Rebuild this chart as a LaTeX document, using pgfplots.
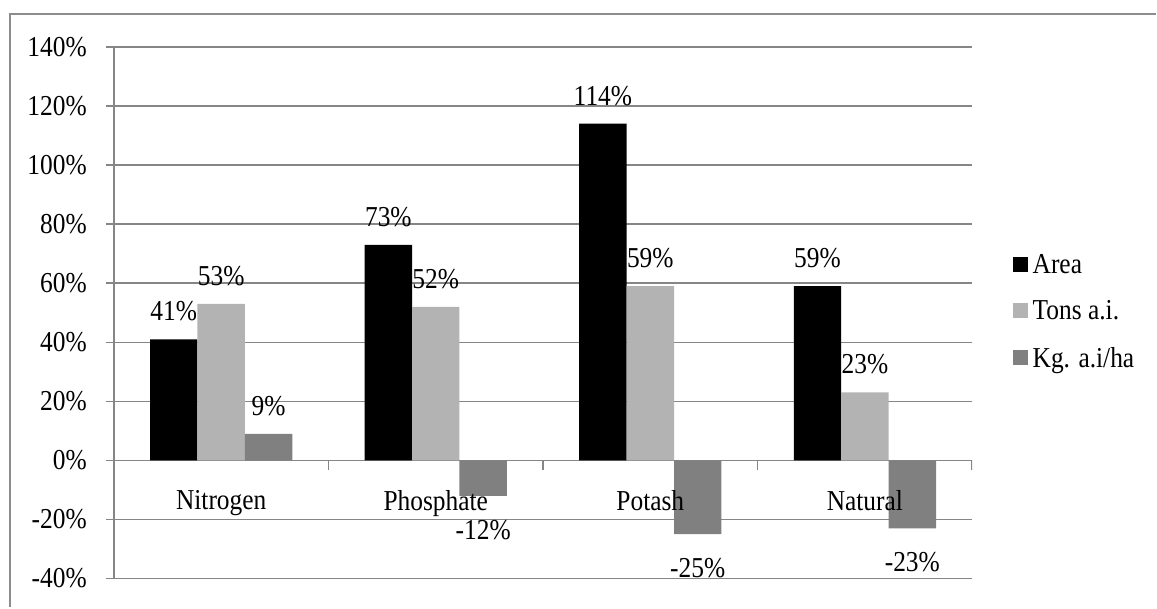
\documentclass[border=0pt]{standalone}
\usepackage{fontspec}
\setmainfont{Liberation Serif}[FakeStretch=0.88]
\usepackage{pgfplots}
\pgfplotsset{compat=1.18}
\definecolor{gridgray}{HTML}{868686}
\definecolor{lightbar}{HTML}{B3B3B3}
\definecolor{darkbar}{HTML}{808080}
\definecolor{framegray}{HTML}{8C8C8C}
\pgfplotsset{
  layers/labelsontop/.define layer set={
    axis background,axis grid,axis ticks,axis lines,pre main,main,axis tick labels,
    axis descriptions,axis foreground}{/pgfplots/layers/standard},
}
\begin{document}
\begin{tikzpicture}[font=\fontsize{29}{34}\selectfont]
\path (0bp,0bp) rectangle (1157bp,608bp);
\draw[framegray, line width=2bp] (1157bp,594bp) -- (10bp,594bp) -- (10bp,0bp);
\begin{axis}[
  set layers=labelsontop,
  at={(114bp,29bp)}, anchor=south west,
  scale only axis, width=859bp, height=532bp,
  xmin=-0.5, xmax=3.5, ymin=-40, ymax=140,
  axis x line*=bottom, axis y line*=left,
  axis line style={gridgray, line width=1.5bp},
  ytick={-40,-20,...,140},
  ymajorgrids, grid style={gridgray, line width=1.5bp},
  xtick={0,1,2,3},
  xticklabels={Nitrogen,Phosphate,Potash,Natural},
  x tick style={draw=none},
  y tick style={gridgray, line width=1.5bp},
  tick align=outside, major tick length=8bp,
  /pgf/number format/assume math mode=true,
  yticklabel={\pgfmathprintnumber{\tick}\%},
  yticklabel style={anchor=east, inner sep=0pt, xshift=-19bp},
  xticklabel style={anchor=north, inner sep=0pt, yshift=96bp},
  ybar, bar width=0.221,
  visualization depends on={y \as \rawy},
  nodes near coords={\pgfmathprintnumber{\pgfplotspointmeta}\%},
  nodes near coords align={vertical},
  every node near coord/.append style={inner ysep=18bp, inner xsep=0pt, text=black,
    yshift={(\rawy<0)*(-6)}},
  legend style={at={(1.047,0.502)}, anchor=west, draw=none, fill=none, inner sep=0pt,
    row sep=24bp, nodes={inner sep=1bp}},
  legend cell align=left,
  legend image code/.code={\fill[#1] (0bp,-7bp) rectangle (15bp,8bp);},
  legend style={nodes={inner xsep=5bp}},
]
\addplot[fill=black, draw=none, bar shift=-0.221] coordinates {(0,41) (1,73) (2,114) (3,59)};
\addplot[fill=lightbar, draw=none, bar shift=0] coordinates {(0,53) (1,52) (2,59) (3,23)};
\addplot[fill=darkbar, draw=none, bar shift=0.221] coordinates {(0,9) (1,-12) (2,-25) (3,-23)};
\legend{Area, Tons a.i., Kg. a.i/ha}
\draw[gridgray, line width=1.5bp] (axis cs:0.5,0) -- (axis cs:0.5,-3.4);
\draw[gridgray, line width=1.5bp] (axis cs:1.5,0) -- (axis cs:1.5,-3.4);
\draw[gridgray, line width=1.5bp] (axis cs:2.5,0) -- (axis cs:2.5,-3.4);
\draw[gridgray, line width=1.5bp] (axis cs:3.5,0) -- (axis cs:3.5,-3.4);
\end{axis}
\end{tikzpicture}
\end{document}
